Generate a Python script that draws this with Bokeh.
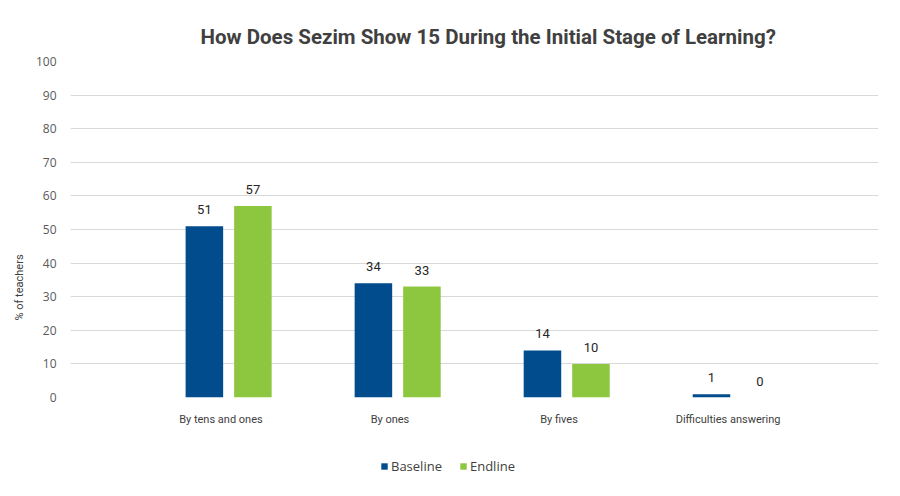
from bokeh.plotting import figure
from bokeh.models import ColumnDataSource, Legend, LegendItem, FactorRange, Title
from bokeh.layouts import column
from bokeh.transform import dodge
from bokeh.core.properties import value
from bokeh.embed import file_html
from bokeh.resources import INLINE

categories = ["By tens and ones", "By ones", "By fives", "Difficulties answering"]
baseline = [51, 34, 14, 1]
endline = [57, 33, 10, 0]
y_ticks = [0, 10, 20, 30, 40, 50, 60, 70, 80, 90, 100]

BLUE = "#004c8c"
GREEN = "#8dc63f"
NARROW = "Roboto"

source = ColumnDataSource(data=dict(
    cat=categories,
    baseline=baseline,
    endline=endline,
    baseline_txt=[str(v) for v in baseline],
    endline_txt=[str(v) for v in endline],
))

p = figure(
    x_range=FactorRange(*categories, range_padding=0.39, range_padding_units="absolute"),
    y_range=(0, 100),
    frame_width=808, frame_height=336,
    output_backend="svg", toolbar_location=None,
    min_border_left=70, min_border_right=6, min_border_top=61, min_border_bottom=40,
    title="How Does Sezim Show 15 During the Initial Stage of Learning?",
)

p.title.text_font = NARROW
p.title.text_font_style = "bold"
p.title.text_font_size = "20.5px"
p.title.text_color = "#404040"
p.title.align = "left"
p.title.offset = 130
p.title.standoff = 26

bw = 0.222
OFF_B = -0.098
OFF_E = 0.189
r1 = p.vbar(x=dodge("cat", OFF_B, range=p.x_range), top="baseline", width=bw,
            source=source, color=BLUE, line_color=None)
r2 = p.vbar(x=dodge("cat", OFF_E, range=p.x_range), top="endline", width=bw,
            source=source, color=GREEN, line_color=None)

p.text(x=dodge("cat", OFF_B, range=p.x_range), y="baseline", text="baseline_txt",
       source=source, text_align="center", text_baseline="bottom", y_offset=-12,
       text_font=value(NARROW), text_font_size="13px", text_color="#262626")
p.text(x=dodge("cat", OFF_E, range=p.x_range), y="endline", text="endline_txt",
       source=source, text_align="center", text_baseline="bottom", y_offset=-12,
       text_font=value(NARROW), text_font_size="13px", text_color="#262626")

# axes
p.yaxis.ticker = y_ticks
p.yaxis.axis_line_color = None
p.yaxis.major_tick_line_color = None
p.yaxis.minor_tick_line_color = None
p.yaxis.major_label_text_font = "Open Sans"
p.yaxis.major_label_text_font_size = "12px"
p.yaxis.major_label_text_color = "#595959"
p.yaxis.major_label_standoff = 8

ylab = Title(text="% of teachers", align="left", offset=77, standoff=14,
             text_font=NARROW, text_font_style="normal", text_font_size="11px",
             text_color="#404040")
p.add_layout(ylab, "left")

p.xaxis.axis_line_color = None
p.xaxis.major_tick_line_color = None
p.xaxis.minor_tick_line_color = None
p.xaxis.major_label_text_font = NARROW
p.xaxis.major_label_text_font_size = "11px"
p.xaxis.major_label_text_color = "#404040"
p.xaxis.major_label_standoff = 9

p.xgrid.grid_line_color = None
p.ygrid.grid_line_color = "#d9d9d9"
p.ygrid.grid_line_width = 1
p.outline_line_color = None

# legend strip (hidden copies of the bar renderers supply the legend swatches)
lg = figure(width=884, height=40, x_range=p.x_range, y_range=(0, 1),
            x_axis_location=None, y_axis_location=None,
            output_backend="svg", toolbar_location=None,
            min_border=0, min_border_left=0, min_border_right=0,
            min_border_top=0, min_border_bottom=0)
lg.grid.visible = False
lg.outline_line_color = None
l1 = lg.vbar(x=dodge("cat", OFF_B, range=lg.x_range), top="baseline", width=bw,
             source=source, color=BLUE, line_color=None, visible=False)
l2 = lg.vbar(x=dodge("cat", OFF_E, range=lg.x_range), top="endline", width=bw,
             source=source, color=GREEN, line_color=None, visible=False)

legend = Legend(items=[LegendItem(label="Baseline", renderers=[l1]),
                       LegendItem(label="Endline", renderers=[l2])],
                orientation="horizontal", location=(310, 2),
                glyph_width=8, glyph_height=8, spacing=17,
                label_text_font="Open Sans", label_text_font_size="13px",
                label_text_color="#404040", label_standoff=3,
                border_line_color=None, background_fill_alpha=0,
                margin=0, padding=2)
lg.add_layout(legend, "center")

layout = column(p, lg, spacing=0)
open("out.html", "w").write(file_html(layout, INLINE))
